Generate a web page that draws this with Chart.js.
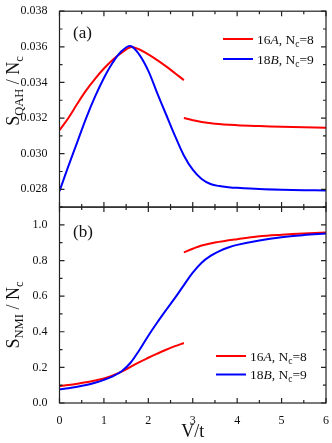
<!DOCTYPE html>
<html>
<head>
<meta charset="utf-8">
<script src="https://cdn.jsdelivr.net/npm/chart.js@4.4.0/dist/chart.umd.min.js"></script>
<style>
  html, body { margin: 0; padding: 0; background: #fff; }
</style>
</head>
<body>
<canvas id="chart" width="332" height="443"></canvas>
<script>
// --- data ---
// panel (a): S_QAH / N_c
const vA1 = [0, 0.2, 0.4, 0.6, 0.8, 1.0, 1.2, 1.4, 1.6, 1.8, 2.0, 2.2, 2.4, 2.6, 2.8];
const qahA1 = [0.03132, 0.03200, 0.03280, 0.03355, 0.03420, 0.03478, 0.03528, 0.03567, 0.03598, 0.03585, 0.03557, 0.03525, 0.03490, 0.03452, 0.03413];
const vA2 = [2.8, 3.0, 3.2, 3.5, 4.0, 4.5, 5.0, 5.5, 6.0];
const qahA2 = [0.03200, 0.03188, 0.03178, 0.03168, 0.03160, 0.03155, 0.03151, 0.03148, 0.03146];
const vB = [0, 0.2, 0.4, 0.6, 0.8, 1.0, 1.2, 1.4, 1.6, 1.8, 2.0, 2.2, 2.4, 2.6, 2.8, 3.0, 3.2, 3.4, 3.6, 3.8, 4.0, 4.5, 5.0, 5.5, 6.0];
const qahB = [0.02790, 0.02930, 0.03065, 0.03200, 0.03320, 0.03425, 0.03512, 0.03576, 0.03605, 0.03555, 0.03465, 0.03340, 0.03220, 0.03100, 0.02990, 0.02910, 0.02858, 0.02830, 0.02818, 0.02812, 0.02808, 0.02801, 0.02797, 0.02795, 0.02793];

// panel (b): S_NMI / N_c
const nmiA1 = [0.095, 0.101, 0.108, 0.116, 0.126, 0.138, 0.155, 0.176, 0.203, 0.230, 0.254, 0.277, 0.299, 0.319, 0.337];
const nmiA2 = [0.846, 0.866, 0.884, 0.901, 0.920, 0.936, 0.945, 0.952, 0.958];
const nmiB = [0.077, 0.083, 0.091, 0.101, 0.114, 0.130, 0.150, 0.178, 0.226, 0.298, 0.378, 0.452, 0.522, 0.590, 0.662, 0.732, 0.788, 0.826, 0.853, 0.873, 0.888, 0.913, 0.931, 0.943, 0.952];

// tick labels
const vTicks = [0, 1, 2, 3, 4, 5, 6];
const qahTicks = [0.028, 0.030, 0.032, 0.034, 0.036, 0.038];
const nmiTicks = [0.0, 0.2, 0.4, 0.6, 0.8, 1.0];

const RED = '#ff0000';
const BLUE = '#0000ff';
const SERIF = '"Liberation Serif", "Times New Roman", serif';

const pts = (xs, ys) => xs.map((x, i) => ({x: x, y: ys[i]}));

function line(data, color, axis, order) {
    return {
        data: data,
        borderColor: color,
        borderWidth: 2,
        pointRadius: 0,
        fill: false,
        tension: 0.35,
        yAxisID: axis,
        order: order
    };
}

// draws a run of text pieces: [text, size, italic, dy]
function richText(ctx, parts, x, y, align) {
    const fontOf = p => (p[2] ? 'italic ' : '') + p[1] + 'px ' + SERIF;
    let w = 0;
    parts.forEach(p => { ctx.font = fontOf(p); w += ctx.measureText(p[0]).width; });
    let cx = align === 'center' ? x - w / 2 : x;
    ctx.textAlign = 'left';
    ctx.textBaseline = 'alphabetic';
    parts.forEach(p => {
        ctx.font = fontOf(p);
        ctx.fillText(p[0], cx, y + (p[3] || 0));
        cx += ctx.measureText(p[0]).width;
    });
}

const decor = {
    id: 'decor',
    afterDraw(chart) {
        const ctx = chart.ctx;
        const area = chart.chartArea;
        const xs = chart.scales.x;
        ctx.save();
        ctx.strokeStyle = '#222';
        ctx.fillStyle = '#111';
        ctx.lineWidth = 1.2;

        // frames + inward ticks for each panel
        [['yQ', 0.002], ['yN', 0.2]].forEach(([id, step]) => {
            const s = chart.scales[id];
            ctx.strokeRect(area.left, s.top, area.right - area.left, s.bottom - s.top);
            ctx.beginPath();
            for (let v = s.min; v <= s.max + 1e-9; v += step / 2) {
                const y = s.getPixelForValue(v);
                const major = Math.abs(v / step - Math.round(v / step)) < 1e-6;
                const len = major ? 5 : 3;
                ctx.moveTo(area.left, y); ctx.lineTo(area.left + len, y);
                ctx.moveTo(area.right, y); ctx.lineTo(area.right - len, y);
            }
            for (let v = 0; v <= 6; v += 0.5) {
                const x = xs.getPixelForValue(v);
                const len = Number.isInteger(v) ? 5 : 3;
                ctx.moveTo(x, s.bottom); ctx.lineTo(x, s.bottom - len);
                ctx.moveTo(x, s.top); ctx.lineTo(x, s.top + len);
            }
            ctx.stroke();
        });

        // panel tags
        richText(ctx, [['(a)', 17]], 73, 38);
        richText(ctx, [['(b)', 17]], 73, 237);

        // legends
        const legend = (x0, y0, gap, tx) => {
            [[RED, '16', 'A', '8'], [BLUE, '18', 'B', '9']].forEach(([c, n, l, nc], i) => {
                const y = y0 + i * gap;
                ctx.strokeStyle = c;
                ctx.lineWidth = 2;
                ctx.beginPath();
                ctx.moveTo(x0, y); ctx.lineTo(x0 + 30, y);
                ctx.stroke();
                richText(ctx, [[n, 13.5], [l, 13.5, true], [', N', 13.5], ['c', 9.5, false, 3], ['=' + nc, 13.5]], tx, y + 4.5);
            });
        };
        legend(223, 39, 20, 257);
        legend(216, 356, 18.5, 250);

        // axis titles
        const yTitle = (sub, cy) => {
            ctx.save();
            ctx.translate(19, cy);
            ctx.rotate(-Math.PI / 2);
            richText(ctx, [['S', 18], [sub, 12.5, false, 4], [' / N', 18], ['c', 12.5, false, 4]], 0, 0, 'center');
            ctx.restore();
        };
        yTitle('QAH', 91);
        yTitle('NMI', 315);
        richText(ctx, [['V/t', 18]], (area.left + area.right) / 2, 437, 'center');
        ctx.restore();
    }
};

const ctx = document.getElementById('chart').getContext('2d');
const chart = new Chart(ctx, {
    type: 'line',
    data: {
        datasets: [
            line(pts(vB, qahB), BLUE, 'yQ', 0),
            line(pts(vA1, qahA1), RED, 'yQ', 1),
            line(pts(vA2, qahA2), RED, 'yQ', 1),
            line(pts(vB, nmiB), BLUE, 'yN', 0),
            line(pts(vA1, nmiA1), RED, 'yN', 1),
            line(pts(vA2, nmiA2), RED, 'yN', 1)
        ]
    },
    options: {
        responsive: false,
        animation: false,
        layout: { padding: { left: 0, right: 6, top: 10, bottom: 0 } },
        plugins: { legend: { display: false }, tooltip: { enabled: false } },
        scales: {
            x: {
                type: 'linear',
                min: 0,
                max: 6,
                grid: { display: false },
                border: { display: false },
                afterBuildTicks: s => { s.ticks = vTicks.map(v => ({value: v})); },
                ticks: { padding: 3, color: '#111', font: { family: SERIF, size: 12 }, callback: v => String(v) },
                afterFit: s => { s.height = 40; }
            },
            // stacked left axes: the one defined last ends up on top
            yN: {
                type: 'linear',
                position: 'left',
                stack: 'panels',
                stackWeight: 1,
                min: 0,
                max: 1.1,
                grid: { display: false },
                border: { display: false },
                afterBuildTicks: s => { s.ticks = nmiTicks.map(v => ({value: v})); },
                ticks: { padding: 4, color: '#111', font: { family: SERIF, size: 12 }, callback: v => v.toFixed(1) },
                afterFit: s => { s.width = 59.5; }
            },
            yQ: {
                type: 'linear',
                position: 'left',
                stack: 'panels',
                stackWeight: 1,
                min: 0.027,
                max: 0.038,
                grid: { display: false },
                border: { display: false },
                afterBuildTicks: s => { s.ticks = qahTicks.map(v => ({value: v})); },
                ticks: { padding: 4, color: '#111', font: { family: SERIF, size: 12 }, callback: v => v.toFixed(3) },
                afterFit: s => { s.width = 59.5; }
            }
        }
    },
    plugins: [decor]
});
</script>
</body>
</html>
